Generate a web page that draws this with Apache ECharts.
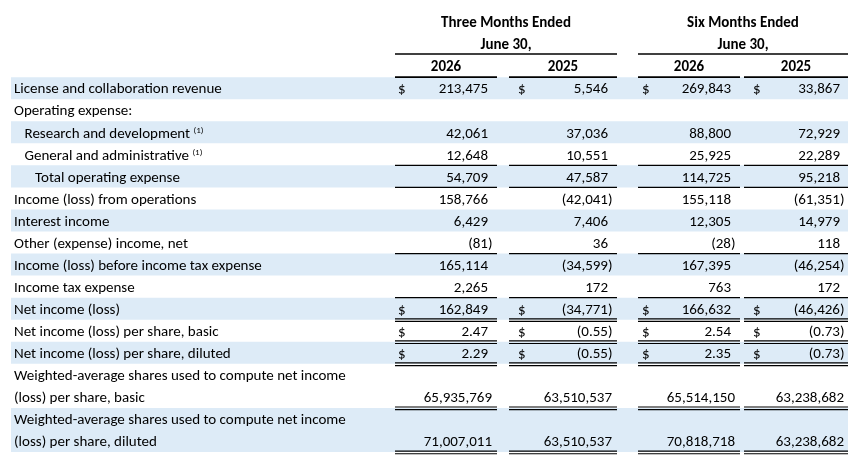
<!DOCTYPE html>
<html>
<head>
<meta charset="utf-8">
<script src="https://cdn.jsdelivr.net/npm/echarts@6/dist/echarts.min.js"></script>
<style>
  html, body { margin: 0; padding: 0; background: #fff; }
  #main { width: 857px; height: 471px; }
</style>
</head>
<body>
<div id="main"></div>
<script>
// column headers
const periods = ['Three Months Ended', 'Six Months Ended'];
const periodDate = 'June 30,';
const years = ['2026', '2025', '2026', '2025'];

// row captions (\n = wrapped second line)
const rowLabels = [
  'License and collaboration revenue',
  'Operating expense:',
  'Research and development',
  'General and administrative',
  'Total operating expense',
  'Income (loss) from operations',
  'Interest income',
  'Other (expense) income, net',
  'Income (loss) before income tax expense',
  'Income tax expense',
  'Net income (loss)',
  'Net income (loss) per share, basic',
  'Net income (loss) per share, diluted',
  'Weighted-average shares used to compute net income\n(loss) per share, basic',
  'Weighted-average shares used to compute net income\n(loss) per share, diluted'
];

// values, in thousands except per-share and share counts
const threeMonths2026 = [213475, null, 42061, 12648, 54709, 158766, 6429, -81, 165114, 2265, 162849, 2.47, 2.29, 65935769, 71007011];
const threeMonths2025 = [5546, null, 37036, 10551, 47587, -42041, 7406, 36, -34599, 172, -34771, -0.55, -0.55, 63510537, 63510537];
const sixMonths2026 = [269843, null, 88800, 25925, 114725, 155118, 12305, -28, 167395, 763, 166632, 2.54, 2.35, 65514150, 70818718];
const sixMonths2025 = [33867, null, 72929, 22289, 95218, -61351, 14979, 118, -46254, 172, -46426, -0.73, -0.73, 63238682, 63238682];

const columns = [threeMonths2026, threeMonths2025, sixMonths2026, sixMonths2025];

// row formatting
const indentLevel = [0, 0, 1, 1, 2, 0, 0, 0, 0, 0, 0, 0, 0, 0, 0];
const footnoteRows = [2, 3];
const dollarRows = [0, 10, 11, 12];
const perShareRows = [11, 12];
const shareCountRows = [13, 14];
const shadedRows = [0, 2, 4, 6, 8, 10, 12, 14];
const singleRuleRows = [3, 4, 7, 9];
const doubleRuleRows = [10, 11, 12, 13, 14];

// layout (x in page pixels, y in line slots)
const FONT = 'Carlito, Calibri, Lato, sans-serif';
const SIZE = 15;
const BAND = '#ddebf7';
const INK = '#000';
const layout = {
  labelX: 14,
  indent: 10.5,
  bandLeft: 11,
  bandRight: 848,
  parenW: 4.5,
  textDy: 1.5,
  cols: [
    { left: 395, right: 497, dollar: 398, num: 488 },
    { left: 509, right: 617, dollar: 518, num: 608 },
    { left: 638, right: 740, dollar: 642, num: 731 },
    { left: 744, right: 848, dollar: 753, num: 840 }
  ],
  groups: [
    { left: 395, right: 617 },
    { left: 638, right: 848 }
  ]
};

// every row gets one slot per text line, after three header slots
const rowSlots = [];
let slot = 3;
rowLabels.forEach(function (l) {
  const n = l.split('\n').length;
  rowSlots.push([slot, slot + n - 1]);
  slot += n;
});

function fmt(v, row) {
  if (v == null) return '';
  const dec = perShareRows.includes(row) ? 2 : 0;
  const t = Math.abs(v).toLocaleString('en-US', { minimumFractionDigits: dec, maximumFractionDigits: dec });
  return v < 0 ? '(' + t + ')' : t;
}

function txt(p, text, align, extra) {
  return {
    type: 'text',
    style: Object.assign({
      x: p[0], y: p[1] + layout.textDy, text: text,
      font: SIZE + 'px ' + FONT,
      fill: INK,
      align: align || 'left',
      verticalAlign: 'middle'
    }, extra || {})
  };
}

function rule(api, x0, x1, y, w) {
  const a = api.coord([x0, y]);
  const b = api.coord([x1, y]);
  return { type: 'line', shape: { x1: a[0], y1: a[1], x2: b[0], y2: b[1] }, style: { stroke: INK, lineWidth: w || 1.3 } };
}

var chartDom = document.getElementById('main');
var myChart = echarts.init(chartDom, null, { renderer: 'canvas' });

var option = {
  animation: false,
  grid: { left: 0, right: 0, top: 11, bottom: 19 },
  xAxis: { type: 'value', min: 0, max: 857, show: false },
  yAxis: { type: 'value', inverse: true, min: -0.5, max: 19.5, show: false },
  series: [
    {
      // shaded bands
      type: 'custom',
      z: 1,
      silent: true,
      data: shadedRows.map(function (r) { return [r]; }),
      renderItem: function (params, api) {
        const s = rowSlots[api.value(0)];
        const p0 = api.coord([layout.bandLeft, s[0] - 0.5]);
        const p1 = api.coord([layout.bandRight, s[1] + 0.5]);
        return {
          type: 'rect',
          shape: { x: p0[0], y: p0[1], width: p1[0] - p0[0], height: p1[1] - p0[1] },
          style: { fill: BAND }
        };
      }
    },
    {
      // column headers
      type: 'custom',
      z: 3,
      silent: true,
      data: [[0]],
      renderItem: function (params, api) {
        const kids = [];
        const bold = { font: 'bold ' + SIZE + 'px ' + FONT };
        layout.groups.forEach(function (g, i) {
          const c = (g.left + g.right) / 2;
          kids.push(txt(api.coord([c, 0]), periods[i], 'center', bold));
          kids.push(txt(api.coord([c, 1]), periodDate, 'center', bold));
          kids.push(rule(api, g.left, g.right, 1.45, 1.6));
        });
        layout.cols.forEach(function (col, i) {
          const c = (col.left + col.right) / 2;
          kids.push(txt(api.coord([c, 2]), years[i], 'center', bold));
          kids.push(rule(api, col.left, col.right, 2.5, 1.6));
        });
        return { type: 'group', children: kids };
      }
    },
    {
      // row captions and values
      type: 'custom',
      z: 3,
      silent: true,
      data: rowLabels.map(function (l, i) { return [i]; }),
      renderItem: function (params, api) {
        const r = api.value(0);
        const s = rowSlots[r];
        const kids = [];
        const x = layout.labelX + indentLevel[r] * layout.indent;
        rowLabels[r].split('\n').forEach(function (line, k) {
          const p = api.coord([x, s[0] + k]);
          if (footnoteRows.includes(r)) {
            kids.push(txt(p, line + ' {sup|(1)}', 'left', {
              rich: { sup: { font: '9px ' + FONT, fill: INK, verticalAlign: 'top', lineHeight: 10 } }
            }));
          } else {
            kids.push(txt(p, line, 'left'));
          }
        });
        layout.cols.forEach(function (col, c) {
          const v = columns[c][r];
          if (v == null) return;
          let right = col.num;
          if (v < 0) right += layout.parenW;
          else if (shareCountRows.includes(r)) right += 4;
          kids.push(txt(api.coord([right, s[1]]), fmt(v, r), 'right'));
          if (dollarRows.includes(r)) {
            kids.push(txt(api.coord([col.dollar, s[1]]), '$', 'left'));
          }
        });
        return { type: 'group', children: kids };
      }
    },
    {
      // single and double rules under column cells
      type: 'custom',
      z: 4,
      silent: true,
      data: singleRuleRows.map(function (r) { return [r, 1]; })
        .concat(doubleRuleRows.map(function (r) { return [r, 2]; })),
      renderItem: function (params, api) {
        const r = api.value(0);
        const n = api.value(1);
        const y = rowSlots[r][1] + 0.5;
        const kids = [];
        layout.cols.forEach(function (col) {
          kids.push(rule(api, col.left, col.right, y - (n === 2 ? 0.04 : 0), 1.2));
          if (n === 2) kids.push(rule(api, col.left, col.right, y + 0.08, 1.2));
        });
        return { type: 'group', children: kids };
      }
    }
  ]
};

myChart.setOption(option);
</script>
</body>
</html>
